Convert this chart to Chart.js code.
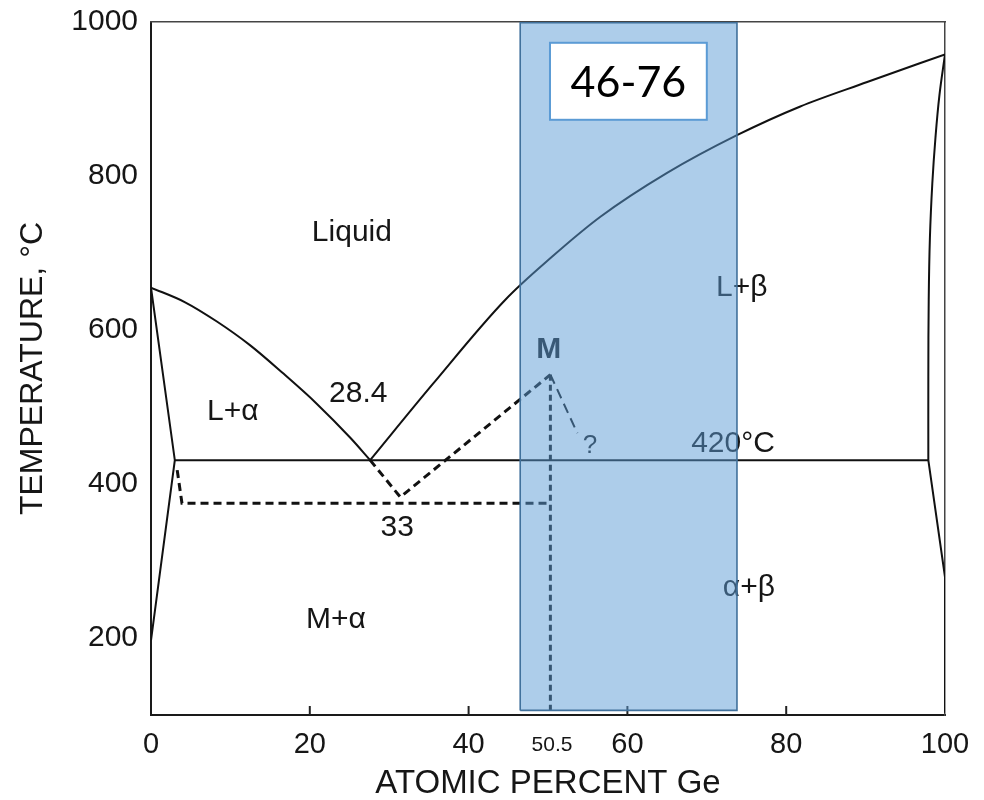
<!DOCTYPE html>
<html>
<head>
<meta charset="utf-8">
<script src="https://cdn.jsdelivr.net/npm/chart.js@4.4.0/dist/chart.umd.min.js"></script>
<style>html,body{margin:0;padding:0;background:#fff}canvas{display:block}</style>
</head>
<body>
<canvas id="c" width="984" height="800"></canvas>
<script>
// ---- axis definitions ----
const X_TICKS = [0, 20, 40, 50.5, 60, 80, 100];
const SPECIAL_TICK = 50.5;
const Y_TICKS = [200, 400, 600, 800, 1000];
const X_RANGE = [0, 100];
const Y_RANGE = [100, 1000];

// ---- phase boundaries (atomic % Ge, temperature °C) ----
const liqAlX = [0, 4.3, 8.3, 12.5, 16.6, 20.9, 25.1, 27.6];
const liqAlT = [655, 636, 611, 580, 544, 504, 460, 431];
const liqGeX = [27.6, 35.5, 44.6, 50.5, 56.6, 65.0, 73.8, 81.7, 90.2, 100];
const liqGeT = [431, 530, 639, 695, 747, 804, 853, 890, 922, 958];
const alphaX = [0, 3.0, 0];
const alphaT = [655, 431, 197];
const betaUpperX = [100, 99.3, 98.8, 98.4, 98.1, 97.95, 97.9, 97.9];
const betaUpperT = [958, 905, 850, 790, 720, 640, 540, 431];
const betaLowerX = [97.9, 100, 100];
const betaLowerT = [431, 279, 103];
const eutX = [3.0, 97.9];
const eutT = [431, 431];
// metastable (dashed) boundaries
const metaAlphaX = [3.3, 3.9, 50.3];
const metaAlphaT = [418, 375, 375];
const metaLiqX = [27.6, 31.4, 50.3];
const metaLiqT = [431, 383, 542];
const metaMX = [50.3, 53.7];
const metaMT = [542, 466];
const metaVX = [50.3, 50.3];
const metaVT = [542, 100];
// highlighted composition band
const bandX = [46.5, 46.5, 73.8, 73.8, 46.5];
const bandT = [106, 999, 999, 106, 106];
const bandLabel = '46-76';
const bandBoxX = [50.25, 70.0];
const bandBoxT = [873, 973];
// region labels
const regionLabels = ['Liquid', 'L+α', '28.4', 'M', '?', '420°C', 'L+β', '33', 'α+β', 'M+α'];
const regionX = [25.3, 10.3, 26.1, 50.1, 55.3, 73.3, 74.4, 31.0, 75.3, 23.3];
const regionT = [730, 497, 521, 578, 453, 456, 658, 347, 269, 227];

const FAMILY = '"Liberation Sans", Arial, Helvetica, sans-serif';
const INK = '#161616';

const pts = (xs, ts) => xs.map((x, i) => ({ x: x, y: ts[i] }));
function line(xs, ts, extra) {
  return Object.assign({
    data: pts(xs, ts), showLine: true, pointRadius: 0, pointHoverRadius: 0,
    borderColor: '#111', borderWidth: 2, fill: false, tension: 0
  }, extra || {});
}

const datasets = [
  line(bandX, bandT, { order: -1, fill: 'shape', backgroundColor: 'rgba(91,155,213,0.5)', borderColor: '#41719c', borderWidth: 1.6 }),
  line(liqAlX, liqAlT, { cubicInterpolationMode: 'monotone' }),
  line(liqGeX, liqGeT, { cubicInterpolationMode: 'monotone' }),
  line(alphaX, alphaT),
  line(betaUpperX, betaUpperT, { tension: 0.4 }),
  line(betaLowerX, betaLowerT),
  line(eutX, eutT),
  line(metaAlphaX, metaAlphaT, { borderDash: [8, 5], borderWidth: 3 }),
  line(metaLiqX, metaLiqT, { borderDash: [8, 5], borderWidth: 3 }),
  line(metaMX, metaMT, { borderDash: [10, 6], borderWidth: 2 }),
  line(metaVX, metaVT, { borderDash: [6, 4], borderWidth: 3 })
];

function labelFont(t) {
  if (t === 'M') return 'bold 30px ' + FAMILY;
  if (t === '?') return '26px ' + FAMILY;
  return '30px ' + FAMILY;
}

const diagramPlugin = {
  id: 'diagram',
  beforeDatasetsDraw(chart) {
    const ctx = chart.ctx, xs = chart.scales.x, ys = chart.scales.y;
    ctx.save();
    ctx.strokeStyle = '#222';
    ctx.lineWidth = 2;
    X_TICKS.forEach(v => {
      if (v > X_RANGE[0] && v < X_RANGE[1] && v !== SPECIAL_TICK) {
        const x = xs.getPixelForValue(v);
        ctx.beginPath();
        ctx.moveTo(x, ys.bottom);
        ctx.lineTo(x, ys.bottom - 9);
        ctx.stroke();
      }
    });
    ctx.fillStyle = INK;
    ctx.textAlign = 'center';
    ctx.textBaseline = 'alphabetic';
    regionLabels.forEach((t, i) => {
      ctx.font = labelFont(t);
      const size = t === '?' ? 26 : 30;
      ctx.fillText(t, xs.getPixelForValue(regionX[i]), ys.getPixelForValue(regionT[i]) + 0.36 * size);
    });
    ctx.restore();
  },
  afterDatasetsDraw(chart) {
    const ctx = chart.ctx, xs = chart.scales.x, ys = chart.scales.y;
    const x1 = xs.getPixelForValue(bandBoxX[0]), x2 = xs.getPixelForValue(bandBoxX[1]);
    const y1 = ys.getPixelForValue(bandBoxT[1]), y2 = ys.getPixelForValue(bandBoxT[0]);
    ctx.save();
    ctx.fillStyle = '#fff';
    ctx.fillRect(x1, y1, x2 - x1, y2 - y1);
    ctx.strokeStyle = '#5b9bd5';
    ctx.lineWidth = 2;
    ctx.strokeRect(x1, y1, x2 - x1, y2 - y1);
    ctx.fillStyle = '#000';
    ctx.font = '43px Lato, "Open Sans", sans-serif';
    ctx.textAlign = 'center';
    ctx.textBaseline = 'alphabetic';
    ctx.fillText(bandLabel, (x1 + x2) / 2, (y1 + y2) / 2 + 0.36 * 43);
    ctx.restore();
  }
};

new Chart(document.getElementById('c'), {
  type: 'scatter',
  data: { datasets: datasets },
  plugins: [diagramPlugin],
  options: {
    responsive: false,
    animation: false,
    events: [],
    layout: { padding: { left: 0, top: 22, right: 39, bottom: 0 } },
    plugins: { legend: { display: false }, tooltip: { enabled: false } },
    scales: {
      x: {
        type: 'linear', position: 'bottom', min: X_RANGE[0], max: X_RANGE[1],
        afterBuildTicks: s => { s.ticks = X_TICKS.map(v => ({ value: v })); },
        afterFit: s => { s.height = 85; },
        grid: { display: false, drawTicks: false },
        border: { display: true, color: '#1a1a1a', width: 2 },
        ticks: {
          autoSkip: false, maxRotation: 0, minRotation: 0, padding: 13, color: INK,
          font: c => (c.tick && c.tick.value === SPECIAL_TICK)
            ? { family: FAMILY, size: 21, lineHeight: 1.6 }
            : { family: FAMILY, size: 29, lineHeight: 1.2 },
          callback: v => String(v)
        },
        title: { display: true, text: 'ATOMIC PERCENT Ge', color: INK,
          font: { family: FAMILY, size: 33, lineHeight: 1 }, padding: { top: 0, bottom: 0 } }
      },
      y: {
        type: 'linear', position: 'left', min: Y_RANGE[0], max: Y_RANGE[1],
        afterBuildTicks: s => { s.ticks = Y_TICKS.map(v => ({ value: v })); },
        afterFit: s => { s.width = 151; s.paddingTop = 0; s.paddingBottom = 0; },
        grid: { display: false, drawTicks: false },
        border: { display: true, color: '#1a1a1a', width: 2 },
        ticks: { padding: 13, color: INK, font: { family: FAMILY, size: 30, lineHeight: 0.5 }, callback: v => String(v) },
        title: { display: true, text: 'TEMPERATURE, °C', color: INK,
          font: { family: FAMILY, size: 32, lineHeight: 1 }, padding: { top: 17, bottom: 0 } }
      },
      x2: {
        type: 'linear', position: 'top', min: X_RANGE[0], max: X_RANGE[1],
        afterFit: s => { s.height = 0; },
        grid: { display: false, drawTicks: false },
        ticks: { display: false },
        border: { display: true, color: '#444', width: 1.5 }
      },
      y2: {
        type: 'linear', position: 'right', min: Y_RANGE[0], max: Y_RANGE[1],
        afterFit: s => { s.width = 0; s.paddingTop = 0; s.paddingBottom = 0; },
        grid: { display: false, drawTicks: false },
        ticks: { display: false },
        border: { display: true, color: '#444', width: 1.5 }
      }
    }
  }
});
</script>
</body>
</html>
